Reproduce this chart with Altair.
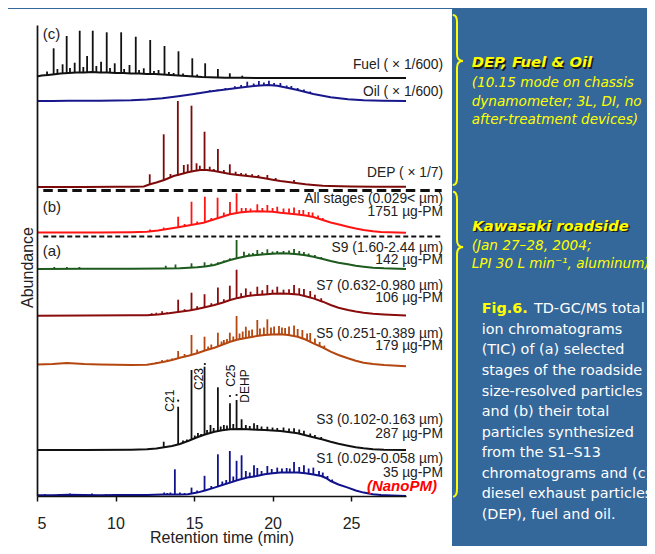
import altair as alt
import pandas as pd

# ---------------- data ----------------
X_TICKS = [5, 10, 15, 20, 25]

TRACES = ["Fuel", "Oil", "DEP", "All", "S9", "S7", "S5", "S3", "S1"]
# vertical stacking offset of each chromatogram (same arbitrary abundance units)
OFFSETS = [418, 395, 309, 263, 227, 180.3, 129.5, 46, 0]
COLORS = ["#111111", "#18188c", "#7d0a0a", "#ff1414", "#1d5a1d", "#8a0c0c", "#b4470f", "#111111", "#10128c"]

# broad hump of each trace: (retention time, abundance)
FUEL_HUMP = [(5.0, 1.5), (5.3, 2.5), (5.7, 3.0), (6.0, 3.5), (6.5, 4.5), (7.0, 5.0), (7.5, 5.5), (8.0, 5.5),
             (8.5, 6.0), (9.0, 5.5), (9.5, 5.5), (10.0, 5.0), (10.5, 5.0), (11.0, 4.5), (11.5, 4.5), (12.0, 4.0),
             (12.5, 4.0), (13.0, 3.5), (13.5, 3.0), (14.0, 2.5), (14.5, 2.0), (15.0, 1.5), (15.5, 1.0), (16.0, 0.8),
             (16.5, 0.5), (17.0, 0.3), (18.0, 0.2), (20.0, 0.0), (28.5, 0.0)]
OIL_HUMP = [(5.0, 0.0), (6.0, 0.0), (7.0, 0.2), (8.0, 0.2), (9.0, 0.3), (10.0, 0.4), (11.0, 0.7), (12.0, 1.5),
            (13.0, 2.7), (14.0, 4.8), (15.0, 7.0), (16.0, 9.5), (17.0, 11.5), (18.0, 13.5), (19.0, 15.3),
            (19.7, 16.0), (20.3, 15.3), (21.0, 13.0), (21.6, 11.0), (22.6, 7.0), (23.7, 3.7), (24.8, 1.7),
            (25.8, 0.7), (27.0, 0.3), (28.5, 0.0)]
DEP_HUMP = [(5.0, 0.0), (8.0, 0.0), (10.0, 0.2), (11.0, 0.3), (11.8, 0.5), (12.2, 2.7), (12.6, 4.5), (13.1, 7.0),
            (13.7, 11.0), (14.2, 13.0), (14.6, 14.7), (15.0, 16.0), (15.4, 17.0), (15.8, 17.0), (16.3, 16.0),
            (16.8, 14.5), (17.3, 13.0), (17.8, 12.0), (18.4, 11.0), (19.0, 10.0), (19.5, 8.7), (20.0, 7.3),
            (20.5, 6.0), (21.0, 5.0), (21.6, 3.7), (22.1, 2.7), (22.6, 2.0), (23.2, 1.3), (23.7, 1.0),
            (25.0, 0.5), (26.5, 0.3), (28.5, 0.2)]
ALL_HUMP = [(5.0, 0.5), (7.0, 0.5), (9.0, 0.6), (11.0, 0.8), (12.0, 1.2), (12.7, 2.5), (13.3, 4.0), (14.0, 5.7),
            (14.8, 8.0), (15.6, 10.3), (16.5, 14.7), (17.3, 18.7), (17.9, 20.5), (18.4, 21.3), (19.0, 21.7),
            (19.5, 21.5), (20.0, 21.3), (20.5, 20.3), (21.0, 19.5), (21.6, 18.5), (22.1, 17.5), (22.6, 16.0),
            (23.2, 13.0), (23.7, 10.5), (24.3, 8.2), (24.8, 6.3), (25.3, 4.5), (25.8, 3.0), (26.4, 1.8),
            (26.9, 1.0), (28.5, 0.2)]
S9_HUMP = [(5.0, 0.0), (8.0, 0.2), (11.0, 0.3), (13.0, 0.4), (14.1, 0.8), (15.2, 1.8), (15.7, 2.5), (16.3, 4.0),
           (16.8, 6.5), (17.3, 9.0), (17.8, 11.0), (18.4, 13.0), (19.0, 14.0), (19.5, 14.7), (20.0, 15.3),
           (20.5, 15.7), (21.0, 15.5), (21.6, 14.7), (22.1, 13.7), (22.6, 12.3), (23.2, 10.0), (23.7, 8.0),
           (24.2, 6.3), (24.8, 4.7), (25.3, 3.3), (25.8, 2.3), (26.4, 1.3), (27.1, 0.7), (28.5, 0.0)]
S7_HUMP = [(5.0, 0.0), (8.0, 0.2), (11.0, 0.4), (12.0, 0.5), (12.7, 1.3), (13.4, 2.5), (14.1, 4.0), (14.7, 5.3),
           (15.2, 6.7), (15.7, 8.5), (16.3, 10.7), (16.8, 13.0), (17.3, 15.7), (17.8, 17.8), (18.4, 19.7),
           (19.0, 20.7), (19.5, 21.3), (20.0, 22.0), (20.5, 22.3), (21.0, 22.0), (21.6, 21.3), (22.1, 19.5),
           (22.6, 17.3), (23.2, 14.0), (23.7, 10.7), (24.2, 8.0), (24.8, 5.7), (25.3, 4.2), (25.8, 3.0),
           (26.4, 2.0), (27.1, 1.3), (28.5, 0.3)]
S5_HUMP = [(5.0, 2.0), (6.0, 2.5), (6.9, 3.5), (8.0, 2.5), (9.0, 2.0), (10.0, 1.8), (11.0, 1.5), (12.0, 1.8),
           (12.5, 3.0), (13.1, 4.8), (13.6, 6.5), (14.1, 8.8), (14.7, 11.0), (15.2, 13.2), (15.7, 16.0),
           (16.3, 18.8), (16.8, 21.8), (17.3, 24.8), (17.8, 27.0), (18.4, 28.8), (19.0, 30.5), (19.5, 31.5),
           (20.0, 32.0), (20.5, 32.2), (21.0, 31.5), (21.6, 29.8), (22.1, 27.0), (22.6, 23.2), (23.2, 19.0),
           (23.7, 14.8), (24.2, 11.5), (24.8, 8.2), (25.3, 5.8), (25.8, 3.8), (26.4, 2.5), (27.1, 1.5), (28.5, 0.2)]
S3_HUMP = [(5.0, 0.0), (8.0, 0.0), (11.0, 0.3), (12.0, 0.7), (12.6, 1.5), (13.1, 2.7), (13.6, 4.0), (14.1, 6.0),
           (14.7, 9.5), (15.2, 12.7), (15.7, 15.5), (16.3, 18.3), (16.8, 19.8), (17.3, 20.7), (17.9, 21.0),
           (18.4, 20.7), (19.0, 20.3), (19.5, 20.0), (20.0, 19.5), (20.5, 19.0), (21.0, 18.0), (21.6, 16.7),
           (22.1, 14.8), (22.6, 12.7), (23.2, 10.5), (23.7, 8.3), (24.2, 6.3), (24.8, 4.3), (25.3, 2.8),
           (25.8, 1.7), (26.4, 0.8), (27.1, 0.3), (28.5, 0.0)]
S1_HUMP = [(5.0, 0.7), (6.0, 0.8), (7.0, 1.2), (8.0, 1.0), (9.0, 0.8), (10.0, 1.0), (11.0, 1.0), (12.0, 1.0),
           (13.0, 1.5), (14.0, 1.5), (14.6, 1.7), (15.2, 3.4), (15.7, 5.5), (16.3, 8.4), (16.8, 11.0), (17.3, 13.4),
           (17.8, 16.0), (18.4, 18.4), (19.0, 20.0), (19.5, 21.7), (20.0, 22.7), (20.5, 23.4), (21.0, 23.6),
           (21.6, 23.5), (22.1, 22.8), (22.6, 21.5), (23.1, 20.0), (23.4, 18.0), (23.7, 15.0), (24.2, 11.5),
           (24.8, 8.4), (25.3, 5.5), (25.8, 3.4), (26.4, 1.8), (26.9, 1.0), (27.6, 0.5), (28.5, 0.0)]

# sharp peaks: (retention time, peak top, peak foot)
FUEL_PEAKS = [(5.64, 6.5, 3.0), (6.06, 29.7, 3.5), (6.30, 9.0, 4.0), (6.63, 13.7, 4.3), (6.89, 42.0, 4.8),
              (7.10, 10.0, 5.0), (7.40, 15.3, 5.3), (7.72, 47.3, 5.5), (7.95, 11.0, 5.5), (8.19, 22.0, 5.5),
              (8.55, 47.3, 6.0), (8.78, 12.0, 5.8), (9.08, 16.3, 5.5), (9.44, 45.7, 5.5), (9.65, 10.0, 5.3),
              (9.95, 14.7, 5.0), (10.36, 45.7, 5.0), (10.55, 9.0, 5.0), (10.89, 13.0, 4.5), (11.29, 41.3, 4.5),
              (11.50, 8.0, 4.5), (11.80, 9.7, 4.2), (12.21, 38.0, 4.0), (12.45, 7.0, 4.0), (12.74, 8.0, 3.8),
              (13.12, 32.0, 3.5), (13.40, 6.0, 3.0), (13.70, 5.0, 2.8), (14.01, 26.7, 2.5), (14.30, 4.5, 2.2),
              (14.89, 19.7, 1.6), (15.20, 3.5, 1.3), (15.71, 14.7, 0.9), (16.52, 9.0, 0.5), (17.28, 4.7, 0.3),
              (18.07, 2.3, 0.2)]
OIL_PEAKS = [(13.07, 3.8, 2.8), (14.1, 6.0, 4.9), (15.2, 8.3, 7.3), (16.0, 10.8, 9.5), (16.5, 11.5, 10.5),
             (17.0, 13.0, 11.5), (17.6, 14.8, 12.5), (18.0, 16.0, 13.5), (18.39, 19.3, 14.2), (18.8, 17.5, 14.8),
             (19.13, 20.0, 15.4), (19.45, 18.5, 15.8), (19.77, 20.3, 16.0), (20.1, 18.0, 15.8), (20.5, 18.0, 15.0),
             (20.9, 15.5, 13.5), (21.2, 15.0, 12.5), (21.6, 13.0, 11.0), (22.0, 11.5, 9.5), (22.4, 9.5, 8.0)]
DEP_PEAKS = [(12.18, 12.7, 3.0), (13.07, 52.7, 7.0), (13.5, 13.0, 9.5), (13.97, 86.0, 11.5), (14.35, 22.0, 13.5),
             (14.6, 22.7, 14.7), (14.84, 81.3, 15.3), (15.16, 23.7, 16.3), (15.37, 21.3, 17.0), (15.67, 55.3, 17.0),
             (16.0, 20.3, 16.7), (16.26, 18.0, 16.0), (16.52, 38.0, 15.5), (16.9, 17.0, 14.3), (17.28, 22.7, 13.0),
             (17.65, 15.3, 12.3), (18.0, 14.0, 11.7), (18.3, 13.5, 11.2), (18.7, 12.8, 10.5), (19.1, 12.0, 9.8),
             (19.67, 12.0, 8.3), (20.2, 9.0, 7.0), (21.37, 7.0, 4.2)]
ALL_PEAKS = [(12.2, 3.5, 1.5), (13.07, 5.5, 3.2), (13.99, 16.3, 5.7), (14.4, 9.0, 7.0), (14.84, 31.3, 8.0),
             (15.2, 11.5, 9.0), (15.69, 36.3, 10.3), (16.1, 15.0, 12.5), (16.5, 35.3, 14.5), (16.9, 20.5, 16.5),
             (17.29, 31.0, 18.5), (17.71, 39.7, 19.5), (18.03, 25.0, 20.5), (18.3, 25.0, 21.0), (18.6, 24.5, 21.3),
             (19.03, 28.7, 21.6), (19.35, 25.0, 21.6), (19.67, 28.0, 21.5), (20.0, 25.0, 21.3), (20.3, 26.3, 21.0),
             (20.7, 24.5, 20.3), (21.05, 24.5, 19.5), (21.37, 25.5, 19.0), (21.7, 23.0, 18.3), (21.96, 23.0, 17.7),
             (22.3, 21.0, 17.0), (22.55, 20.5, 16.2), (22.9, 17.5, 14.8), (23.2, 15.0, 13.0)]
S9_PEAKS = [(6.1, 2.0, 0.1), (6.9, 2.0, 0.1), (7.7, 2.0, 0.2), (13.2, 3.3, 0.4), (13.82, 4.5, 0.6),
            (14.84, 5.7, 1.3), (15.67, 6.7, 2.4), (16.1, 5.5, 3.5), (16.52, 6.7, 4.7), (16.9, 8.5, 6.8),
            (17.28, 10.7, 9.0), (17.71, 29.0, 10.0), (18.18, 17.3, 12.5), (18.5, 15.5, 13.2), (18.75, 16.0, 13.6),
            (19.03, 19.0, 14.0), (19.35, 17.0, 14.5), (19.67, 19.7, 14.8), (20.0, 17.5, 15.3), (20.3, 18.0, 15.5),
            (20.7, 18.0, 15.7), (21.05, 18.5, 15.5), (21.37, 20.0, 15.2), (21.7, 18.0, 14.5), (22.0, 17.0, 14.0),
            (22.3, 15.5, 13.3), (22.7, 14.0, 12.0), (23.1, 12.0, 10.3)]
S7_PEAKS = [(12.3, 2.5, 0.8), (12.6, 3.0, 1.2), (12.97, 4.5, 1.8), (13.3, 3.5, 2.3), (13.99, 16.0, 3.8),
            (14.4, 6.5, 4.6), (14.84, 23.0, 5.5), (15.2, 9.5, 6.7), (15.67, 21.5, 8.4), (16.1, 12.5, 10.0),
            (16.52, 28.2, 11.7), (16.9, 16.5, 13.5), (17.28, 30.0, 15.5), (17.71, 46.0, 17.2), (18.0, 22.5, 18.5),
            (18.3, 27.3, 19.4), (18.6, 24.0, 20.0), (19.03, 29.0, 20.7), (19.35, 25.5, 21.0), (19.67, 30.7, 21.6),
            (20.0, 26.0, 22.0), (20.3, 29.0, 22.2), (20.7, 26.0, 22.3), (21.05, 26.5, 22.1), (21.37, 30.7, 21.8),
            (21.7, 27.5, 21.0), (22.0, 26.7, 20.0), (22.4, 24.7, 18.5), (22.7, 21.0, 16.8), (23.1, 17.5, 14.7)]
S5_PEAKS = [(12.6, 4.5, 3.2), (12.97, 6.5, 4.3), (13.3, 7.0, 5.5), (13.6, 8.0, 6.5), (13.99, 15.5, 8.3),
            (14.4, 12.5, 9.8), (14.84, 31.5, 11.5), (15.2, 17.0, 13.2), (15.67, 29.8, 15.8), (15.9, 20.0, 17.0),
            (16.1, 22.0, 17.8), (16.52, 33.8, 20.2), (16.75, 25.0, 21.5), (16.9, 26.5, 22.3), (17.1, 27.5, 23.5),
            (17.28, 33.8, 24.5), (17.5, 30.0, 25.8), (17.71, 50.5, 26.5), (17.9, 33.0, 27.2), (18.1, 35.0, 27.8),
            (18.3, 39.8, 28.5), (18.5, 36.0, 29.0), (18.7, 37.0, 29.6), (19.03, 46.5, 30.3), (19.2, 38.0, 30.8),
            (19.45, 39.0, 31.4), (19.67, 47.2, 31.6), (19.9, 39.0, 31.9), (20.1, 40.0, 32.0), (20.41, 40.5, 32.1),
            (20.6, 39.0, 32.2), (20.8, 38.5, 32.0), (21.05, 40.0, 31.6), (21.37, 41.0, 30.8), (21.6, 37.5, 29.8),
            (21.9, 36.5, 28.2), (22.2, 33.0, 26.6), (22.4, 33.5, 25.0), (22.7, 28.0, 22.7), (23.0, 24.5, 20.5),
            (23.3, 21.0, 18.2)]
S3_PEAKS = [(13.07, 8.3, 2.7), (13.4, 4.0, 3.2), (13.99, 43.3, 5.0), (14.3, 9.5, 7.0), (14.55, 10.5, 8.5),
            (14.84, 80.0, 10.0), (15.05, 14.5, 11.5), (15.25, 17.0, 13.0), (15.45, 16.0, 14.2), (15.67, 83.3, 15.0),
            (15.83, 20.0, 16.0), (16.05, 25.0, 17.0), (16.25, 22.0, 18.0), (16.52, 62.7, 18.8), (16.7, 23.5, 19.5),
            (16.9, 25.0, 20.0), (17.1, 24.5, 20.3), (17.29, 46.7, 20.7), (17.5, 26.0, 20.8), (17.71, 50.0, 21.0),
            (18.03, 30.7, 21.0), (18.3, 25.0, 20.8), (18.55, 24.0, 20.7), (18.82, 26.7, 20.5), (19.03, 25.0, 20.3),
            (19.3, 23.5, 20.1), (19.67, 23.3, 19.8), (20.0, 22.5, 19.5), (20.3, 22.0, 19.2), (20.7, 22.5, 18.7),
            (21.05, 21.5, 18.0), (21.37, 21.7, 17.3), (21.7, 20.5, 16.3), (22.0, 19.3, 15.5), (22.4, 16.5, 13.5),
            (22.7, 15.0, 12.3), (23.1, 13.0, 10.8)]
S1_PEAKS = [(5.5, 1.8, 0.7), (6.4, 1.8, 0.9), (7.1, 2.5, 1.2), (7.8, 2.0, 1.1), (8.5, 2.5, 1.0), (9.4, 1.8, 0.9),
            (11.2, 1.8, 1.0), (12.5, 2.0, 1.2), (13.1, 3.5, 1.5), (13.3, 3.0, 1.5), (13.5, 3.5, 1.5),
            (13.78, 26.7, 1.5), (14.1, 3.5, 1.5), (14.4, 3.0, 1.6), (14.84, 8.4, 2.2), (15.2, 5.5, 3.4),
            (15.67, 20.2, 5.2), (16.1, 10.0, 7.5), (16.52, 41.7, 9.3), (16.8, 14.5, 11.0), (17.05, 16.0, 12.2),
            (17.28, 45.0, 13.3), (17.5, 19.5, 14.5), (17.71, 35.2, 15.5), (18.03, 40.7, 17.0), (18.3, 25.0, 18.0),
            (18.55, 23.5, 18.7), (18.82, 30.7, 19.5), (19.03, 28.0, 20.0), (19.3, 25.0, 21.0), (19.67, 30.0, 22.0),
            (19.95, 27.0, 22.6), (20.3, 28.4, 23.1), (20.6, 27.5, 23.4), (20.9, 28.0, 23.6), (21.1, 27.5, 23.6),
            (21.37, 34.0, 23.6), (21.7, 29.0, 23.3), (22.0, 30.7, 23.0), (22.3, 27.5, 22.3), (22.6, 28.4, 21.5),
            (22.96, 25.0, 20.5), (23.2, 23.5, 19.5), (23.5, 20.0, 17.2), (23.8, 16.5, 14.3)]

HUMPS = [FUEL_HUMP, OIL_HUMP, DEP_HUMP, ALL_HUMP, S9_HUMP, S7_HUMP, S5_HUMP, S3_HUMP, S1_HUMP]
PEAKS = [FUEL_PEAKS, OIL_PEAKS, DEP_PEAKS, ALL_PEAKS, S9_PEAKS, S7_PEAKS, S5_PEAKS, S3_PEAKS, S1_PEAKS]

# right-hand trace labels: (text, abundance of the text baseline)
LABEL_TEXT = ["Fuel ( \u00d7 1/600)", "Oil ( \u00d7 1/600)", "DEP ( \u00d7 1/7)",
              "All stages (0.029< \u00b5m)", "1751 \u00b5g-PM",
              "S9 (1.60-2.44 \u00b5m)", "142 \u00b5g-PM",
              "S7 (0.632-0.980 \u00b5m)", "106 \u00b5g-PM",
              "S5 (0.251-0.389 \u00b5m)", "179 \u00b5g-PM",
              "S3 (0.102-0.163 \u00b5m)", "287 \u00b5g-PM",
              "S1 (0.029-0.058 \u00b5m)", "35 \u00b5g-PM"]
LABEL_Y = [427, 400.3, 319.3, 293.3, 280, 244.3, 231.7, 206, 194.3, 157.7, 146, 71.7, 58.3, 32.7, 19.3]
LABEL_T = 30.86
NANO_TEXT, NANO_Y, NANO_T = "(NanoPM)", 5.3, 30.47

PANEL_TEXT = ["(c)", "(b)", "(a)"]
PANEL_Y = [457.5, 284.2, 240]
PANEL_T = 5.36

SEP_Y = [305.5, 259.6]
SEP_T = [5.40, 30.77]

ANNOT_TEXT = ["C21", "C23", "C25", "DEHP"]
ANNOT_T = [13.71, 15.55, 17.62, 18.52]
ANNOT_Y = [84.3, 106, 109.3, 93.3]
DOT_T = [13.99, 15.69, 17.29, 17.71]
DOT_Y = [95.3, 132, 100, 101]

HEAD1 = "DEP, Fuel & Oil"
BLOCK1 = ["(10.15 mode on chassis", "dynamometer; 3L, DI, no", "after-treatment devices)"]
HEAD2 = "Kawasaki roadside"
BLOCK2 = ["(Jan 27\u201328, 2004;", "LPI 30 L min\u207b\u00b9, aluminum)"]
FIG_LABEL = "Fig.6."
CAPTION_FIRST = "TD-GC/MS total"
CAPTION = ["ion chromatograms", "(TIC) of (a) selected", "stages of the roadside", "size-resolved particles",
           "and (b) their total", "particles synthesized", "from the S1\u2013S13", "chromatograms and (c)",
           "diesel exhaust particles", "(DEP), fuel and oil."]

# ---------------- tables ----------------
line_rows, peak_rows = [], []
for name, off, hump, peaks in zip(TRACES, OFFSETS, HUMPS, PEAKS):
    for t, v in hump:
        line_rows.append({"trace": name, "t": t, "y": off + v})
    for t, top, base in peaks:
        peak_rows.append({"trace": name, "t": t, "y": off + top, "y2": off + base})
lines_df = pd.DataFrame(line_rows)
peaks_df = pd.DataFrame(peak_rows)
labels_df = pd.DataFrame({"t": [LABEL_T] * len(LABEL_TEXT), "y": LABEL_Y, "text": LABEL_TEXT})
nano_df = pd.DataFrame({"t": [NANO_T], "y": [NANO_Y], "text": [NANO_TEXT]})
panel_df = pd.DataFrame({"t": [PANEL_T] * 3, "y": PANEL_Y, "text": PANEL_TEXT})
annot_df = pd.DataFrame({"t": ANNOT_T, "y": ANNOT_Y, "text": ANNOT_TEXT})
dots_df = pd.DataFrame({"t": DOT_T, "y": DOT_Y})
sep1_df = pd.DataFrame({"t": [SEP_T[0]], "t2": [SEP_T[1]], "y": [SEP_Y[0]]})
sep2_df = pd.DataFrame({"t": [SEP_T[0]], "t2": [SEP_T[1]], "y": [SEP_Y[1]]})
one = pd.DataFrame({"k": [0]})

# ---------------- scales / axes ----------------
FONT = "Liberation Sans"
SLIDE_FONT = "DejaVu Sans"
xscale = alt.Scale(domain=[5, 28.5], nice=False, zero=False)
yscale = alt.Scale(domain=[0, 471], nice=False, zero=False)
xaxis = alt.Axis(values=X_TICKS, format="d", title="Retention time (min)", grid=False,
                 tickSize=5, tickWidth=1.5, tickColor="#111111",
                 domainColor="#111111", domainWidth=1.7,
                 labelFont=FONT, labelFontSize=16, labelColor="#222222",
                 labelBaseline="alphabetic", labelPadding=27,
                 titleFont=FONT, titleFontSize=16, titleFontWeight="normal", titleColor="#222222",
                 titleBaseline="alphabetic", titleY=46, zindex=1)
yaxis = alt.Axis(title="Abundance", labels=False, ticks=False, grid=False,
                 domainColor="#111111", domainWidth=1.7,
                 titleFont=FONT, titleFontSize=16, titleFontWeight="normal", titleColor="#222222",
                 titleAngle=270, titleAlign="center", titleBaseline="alphabetic",
                 titleX=-5, titleY=242, zindex=1)


def X(field="t"):
    return alt.X(f"{field}:Q", scale=xscale, axis=xaxis)


def Y(field="y"):
    return alt.Y(f"{field}:Q", scale=yscale, axis=yaxis)


color = alt.Color("trace:N", scale=alt.Scale(domain=TRACES, range=COLORS), legend=None)

# ---------------- layers ----------------
panel = alt.Chart(one).mark_rect(color="#ffffff").encode(
    x=alt.value(-30), x2=alt.value(415), y=alt.value(-16), y2=alt.value(540))

sep1 = alt.Chart(sep1_df).mark_rule(color="#111111", strokeWidth=3, strokeDash=[9.5, 5]).encode(
    x=X(), x2="t2:Q", y=Y())
sep2 = alt.Chart(sep2_df).mark_rule(color="#111111", strokeWidth=2, strokeDash=[5, 3]).encode(
    x=X(), x2="t2:Q", y=Y())

lines = alt.Chart(lines_df).mark_line(strokeWidth=2).encode(x=X(), y=Y(), color=color)
peaks = alt.Chart(peaks_df).mark_rule(strokeWidth=1.8).encode(x=X(), y=Y(), y2="y2:Q", color=color)

labels = alt.Chart(labels_df).mark_text(align="right", baseline="alphabetic", font=FONT,
                                        fontSize=13.8, color="#222222").encode(x=X(), y=Y(), text="text:N")
nano = alt.Chart(nano_df).mark_text(align="right", baseline="alphabetic", font=FONT, fontSize=15,
                                    fontWeight="bold", fontStyle="italic", color="#ff0000").encode(
    x=X(), y=Y(), text="text:N")
panel_letters = alt.Chart(panel_df).mark_text(align="left", baseline="alphabetic", font=FONT,
                                              fontSize=15, color="#222222").encode(x=X(), y=Y(), text="text:N")
annots = alt.Chart(annot_df).mark_text(angle=270, align="left", baseline="alphabetic", font=FONT,
                                       fontSize=12, color="#111111").encode(x=X(), y=Y(), text="text:N")
dots = alt.Chart(dots_df).mark_circle(size=5, color="#111111", opacity=1).encode(x=X(), y=Y())

UPPER_BRACE = ("M -0.05 -1 Q 0 -1 0 -0.92 L 0 -0.54 Q 0 -0.46 0.07 -0.46 "
               "Q 0 -0.46 0 -0.38 L 0 0.92 Q 0 1 -0.05 1")
LOWER_BRACE = ("M -0.026 -1 Q 0 -1 0 -0.948 L 0 -0.685 Q 0 -0.637 0.04 -0.637 "
               "Q 0 -0.637 0 -0.589 L 0 0.948 Q 0 1 -0.026 1")
brace1 = alt.Chart(one).mark_point(shape=UPPER_BRACE, filled=False, color="#ffff00", strokeWidth=2,
                                   opacity=1, size=170 * 170).encode(x=alt.value(420), y=alt.value(75))
brace2 = alt.Chart(one).mark_point(shape=LOWER_BRACE, filled=False, color="#ffff00", strokeWidth=2,
                                   opacity=1, size=305 * 305).encode(x=alt.value(420), y=alt.value(319.2))


def slide_text(text, x, y, size, color, weight="normal", style="normal", line_height=None, dx=0, dy=0):
    kw = dict(align="left", baseline="alphabetic", font=SLIDE_FONT, fontSize=size, color=color,
              fontWeight=weight, fontStyle=style, dx=dx, dy=dy)
    if line_height is not None:
        kw["lineHeight"] = line_height
    return alt.Chart(one).mark_text(**kw).encode(x=alt.value(x), y=alt.value(y), text=alt.value(text))


YEL = "#ffff00"
SHADOW = "#1a1a1a"
slide = [
    slide_text(HEAD1, 434.7, 42, 14.8, SHADOW, "bold", "italic", dx=1.5, dy=1.5),
    slide_text(HEAD1, 434.7, 42, 14.8, YEL, "bold", "italic"),
    slide_text(BLOCK1, 434.7, 62.3, 13.6, YEL, style="italic", line_height=18.5),
    slide_text(HEAD2, 435.3, 205.7, 14.8, SHADOW, "bold", "italic", dx=1.5, dy=1.5),
    slide_text(HEAD2, 435.3, 205.7, 14.8, YEL, "bold", "italic"),
    slide_text(BLOCK2, 434.7, 225, 13.6, YEL, style="italic", line_height=18.3),
    slide_text(FIG_LABEL, 444.7, 288.3, 14.4, YEL, "bold"),
    slide_text(CAPTION_FIRST, 497, 288.3, 14.4, "#ffffff"),
    slide_text(CAPTION, 444.7, 308.9, 14.4, "#ffffff", line_height=20.57),
]

chart = alt.layer(
    panel, sep1, sep2, lines, peaks, labels, nano, panel_letters, annots, dots, brace1, brace2, *slide
).properties(
    width=369, height=471,
    autosize=alt.AutoSizeParams(type="none"),
    padding={"left": 29, "top": 17, "right": 241, "bottom": 50},
).configure(background="#34679a").configure_view(strokeWidth=0)

chart.save("out.html", embed_options={"renderer": "svg", "actions": False})
